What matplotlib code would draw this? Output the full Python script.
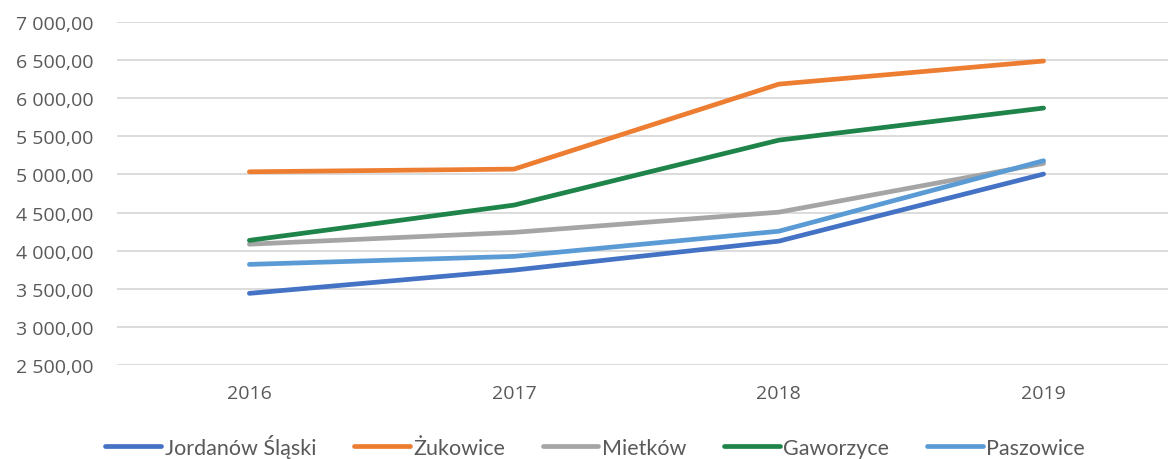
import matplotlib
matplotlib.use("Agg")
import matplotlib.pyplot as plt
from matplotlib.ticker import FuncFormatter

years = ["2016", "2017", "2018", "2019"]
jordanow = [3440, 3745, 4125, 5005]
zukowice = [5035, 5070, 6185, 6488]
mietkow = [4085, 4240, 4505, 5145]
gaworzyce = [4135, 4598, 5450, 5871]
paszowice = [3820, 3925, 4255, 5180]

series = [
    ("Jordanów Śląski", jordanow, "#4472C4"),
    ("Żukowice", zukowice, "#ED7D31"),
    ("Mietków", mietkow, "#A5A5A5"),
    ("Gaworzyce", gaworzyce, "#1E8449"),
    ("Paszowice", paszowice, "#5B9BD5"),
]

fig = plt.figure(figsize=(11.68, 4.60), dpi=100)
ax = fig.add_axes([117/1168, 1-366/460, 1-117/1168, (366-23)/460])

x = list(range(len(years)))
for name, vals, col in series:
    ax.plot(x, vals, color=col, lw=3.4, solid_capstyle="round", label=name)

ax.set_xlim(-0.5, 3.47)
ax.set_ylim(2500, 7000)
ax.set_yticks(range(2500, 7001, 500))
ax.set_xticks(x)
ax.set_xticklabels(years)

def fmt(v, pos):
    return f"{int(v):,}".replace(",", " ") + ",00"
ax.yaxis.set_major_formatter(FuncFormatter(fmt))

ax.grid(axis="y", color="#D9D9D9", lw=1.3)
ax.set_axisbelow(True)
for s in ax.spines.values():
    s.set_visible(False)
ax.tick_params(length=0, labelsize=14, labelcolor="#595959")
ax.tick_params(axis="x", pad=14)
ax.tick_params(axis="y", pad=17)
for lab in ax.get_xticklabels() + ax.get_yticklabels():
    lab.set_family("Open Sans")

leg = fig.legend(loc="center", bbox_to_anchor=(595/1168, 1-447/460), ncol=5,
                 frameon=False, handlelength=2.6, handletextpad=0.15, columnspacing=1.75,
                 prop={"family": "Lato", "size": 15.5})
for t in leg.get_texts():
    t.set_color("#595959")

fig.savefig("out.png", dpi=100)
